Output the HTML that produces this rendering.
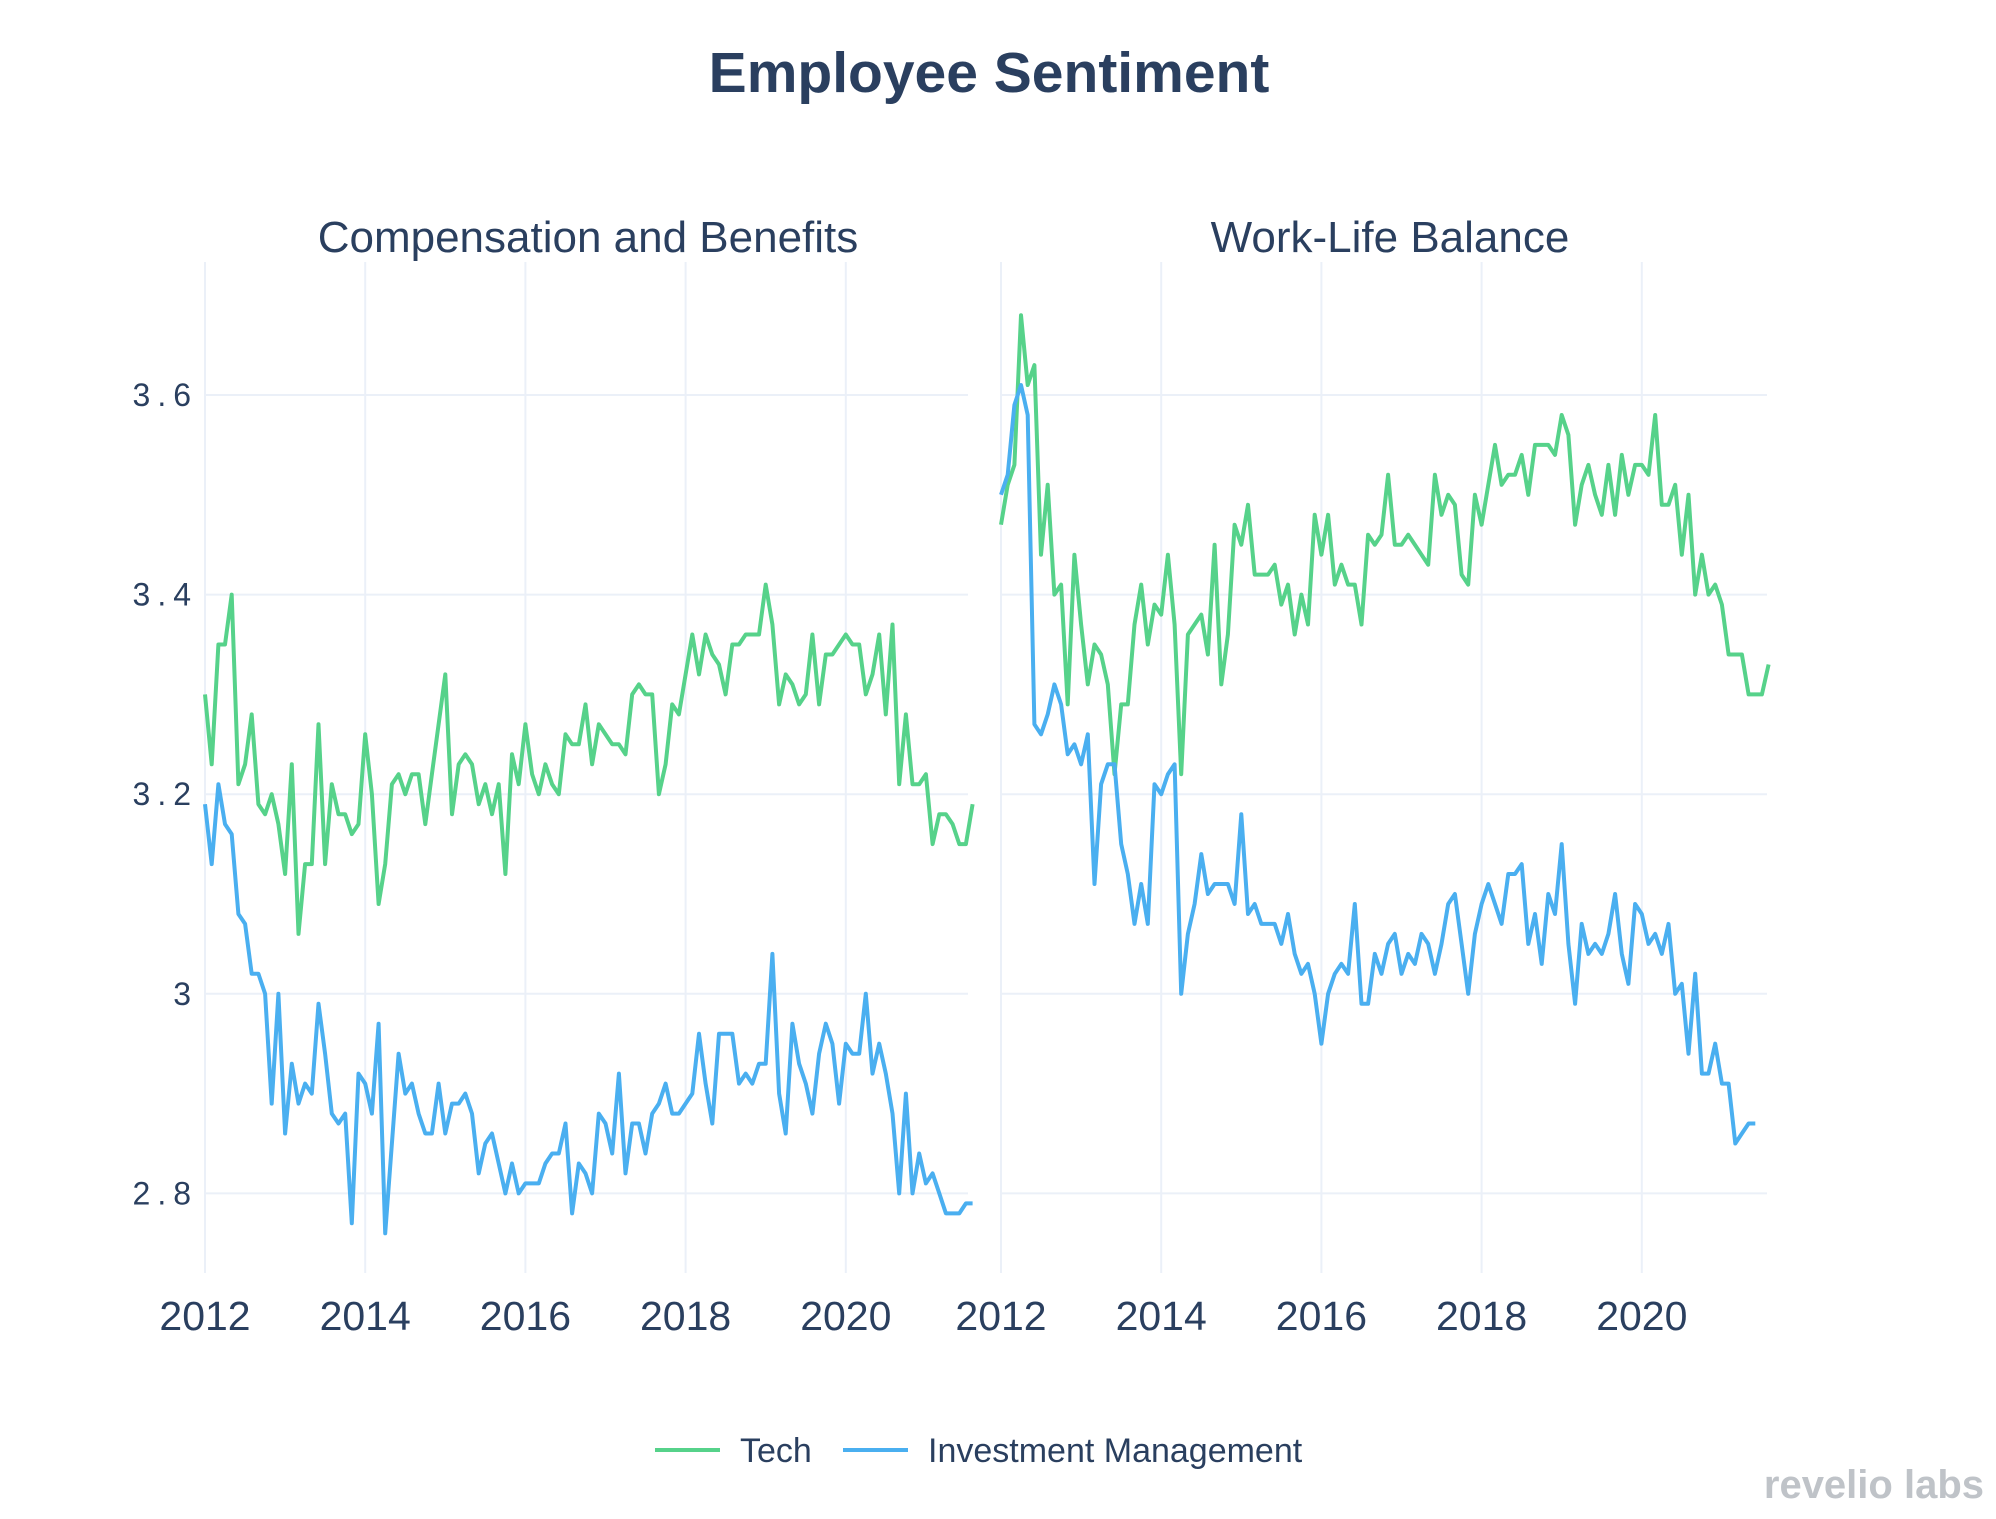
<!DOCTYPE html>
<html><head><meta charset="utf-8"><style>
html,body{margin:0;padding:0;background:#fff;}
svg text{font-family:"Liberation Sans",sans-serif;fill:#2a3f5f;}
</style></head><body>
<svg id="chart" width="1996" height="1514" viewBox="0 0 1996 1514" xmlns="http://www.w3.org/2000/svg">
<rect width="1996" height="1514" fill="#fff"/>
<text x="989" y="92" text-anchor="middle" font-size="57" font-weight="bold">Employee Sentiment</text>
<text x="588" y="252" text-anchor="middle" font-size="44">Compensation and Benefits</text>
<text x="1390" y="252" text-anchor="middle" font-size="44">Work-Life Balance</text>
<g id="grid"></g>
<g id="marks"></g>
<g id="ticks"></g>
<g>
<line x1="655" y1="1450" x2="720" y2="1450" stroke="#56d28a" stroke-width="4"/>
<text x="740" y="1462" font-size="34">Tech</text>
<line x1="843" y1="1450" x2="908" y2="1450" stroke="#4aaff0" stroke-width="4"/>
<text x="928" y="1462" font-size="34">Investment Management</text>
</g>
<text x="1984" y="1498" text-anchor="end" font-size="40" font-weight="bold" style="fill:#bfc3c8">revelio labs</text>
</svg>
<script>
const yTicks=[2.8,3.0,3.2,3.4,3.6];
const yTickLabels=["2.8","3","3.2","3.4","3.6"];
const xTicks=[2012,2014,2016,2018,2020];
const techComp=[3.30,3.23,3.35,3.35,3.40,3.21,3.23,3.28,3.19,3.18,3.20,3.17,3.12,3.23,3.06,3.13,3.13,3.27,3.13,3.21,3.18,3.18,3.16,3.17,3.26,3.20,3.09,3.13,3.21,3.22,3.20,3.22,3.22,3.17,3.22,3.27,3.32,3.18,3.23,3.24,3.23,3.19,3.21,3.18,3.21,3.12,3.24,3.21,3.27,3.22,3.20,3.23,3.21,3.20,3.26,3.25,3.25,3.29,3.23,3.27,3.26,3.25,3.25,3.24,3.30,3.31,3.30,3.30,3.20,3.23,3.29,3.28,3.32,3.36,3.32,3.36,3.34,3.33,3.30,3.35,3.35,3.36,3.36,3.36,3.41,3.37,3.29,3.32,3.31,3.29,3.30,3.36,3.29,3.34,3.34,3.35,3.36,3.35,3.35,3.30,3.32,3.36,3.28,3.37,3.21,3.28,3.21,3.21,3.22,3.15,3.18,3.18,3.17,3.15,3.15,3.19];
const imComp=[3.19,3.13,3.21,3.17,3.16,3.08,3.07,3.02,3.02,3.00,2.89,3.00,2.86,2.93,2.89,2.91,2.90,2.99,2.94,2.88,2.87,2.88,2.77,2.92,2.91,2.88,2.97,2.76,2.85,2.94,2.90,2.91,2.88,2.86,2.86,2.91,2.86,2.89,2.89,2.90,2.88,2.82,2.85,2.86,2.83,2.80,2.83,2.80,2.81,2.81,2.81,2.83,2.84,2.84,2.87,2.78,2.83,2.82,2.80,2.88,2.87,2.84,2.92,2.82,2.87,2.87,2.84,2.88,2.89,2.91,2.88,2.88,2.89,2.90,2.96,2.91,2.87,2.96,2.96,2.96,2.91,2.92,2.91,2.93,2.93,3.04,2.90,2.86,2.97,2.93,2.91,2.88,2.94,2.97,2.95,2.89,2.95,2.94,2.94,3.00,2.92,2.95,2.92,2.88,2.80,2.90,2.80,2.84,2.81,2.82,2.80,2.78,2.78,2.78,2.79,2.79];
const techWlb=[3.47,3.51,3.53,3.68,3.61,3.63,3.44,3.51,3.40,3.41,3.29,3.44,3.37,3.31,3.35,3.34,3.31,3.22,3.29,3.29,3.37,3.41,3.35,3.39,3.38,3.44,3.37,3.22,3.36,3.37,3.38,3.34,3.45,3.31,3.36,3.47,3.45,3.49,3.42,3.42,3.42,3.43,3.39,3.41,3.36,3.40,3.37,3.48,3.44,3.48,3.41,3.43,3.41,3.41,3.37,3.46,3.45,3.46,3.52,3.45,3.45,3.46,3.45,3.44,3.43,3.52,3.48,3.50,3.49,3.42,3.41,3.50,3.47,3.51,3.55,3.51,3.52,3.52,3.54,3.50,3.55,3.55,3.55,3.54,3.58,3.56,3.47,3.51,3.53,3.50,3.48,3.53,3.48,3.54,3.50,3.53,3.53,3.52,3.58,3.49,3.49,3.51,3.44,3.50,3.40,3.44,3.40,3.41,3.39,3.34,3.34,3.34,3.30,3.30,3.30,3.33];
const imWlb=[3.50,3.52,3.59,3.61,3.58,3.27,3.26,3.28,3.31,3.29,3.24,3.25,3.23,3.26,3.11,3.21,3.23,3.23,3.15,3.12,3.07,3.11,3.07,3.21,3.20,3.22,3.23,3.00,3.06,3.09,3.14,3.10,3.11,3.11,3.11,3.09,3.18,3.08,3.09,3.07,3.07,3.07,3.05,3.08,3.04,3.02,3.03,3.00,2.95,3.00,3.02,3.03,3.02,3.09,2.99,2.99,3.04,3.02,3.05,3.06,3.02,3.04,3.03,3.06,3.05,3.02,3.05,3.09,3.10,3.05,3.00,3.06,3.09,3.11,3.09,3.07,3.12,3.12,3.13,3.05,3.08,3.03,3.10,3.08,3.15,3.05,2.99,3.07,3.04,3.05,3.04,3.06,3.10,3.04,3.01,3.09,3.08,3.05,3.06,3.04,3.07,3.00,3.01,2.94,3.02,2.92,2.92,2.95,2.91,2.91,2.85,2.86,2.87,2.87];

const NS="http://www.w3.org/2000/svg";
const panels=[{x0:205,x1:968,name:"compensation"},{x0:1001,x1:1767,name:"work-life"}];
const yTop=262,yBot=1273;
const pxPerYear=80.1;
function yScale(v){return 395+(3.6-v)*998;}
function xScale(p,year){return p.x0+(year-2012)*pxPerYear;}
function mk(tag,attrs,parent){const e=document.createElementNS(NS,tag);for(const k in attrs)e.setAttribute(k,attrs[k]);parent.appendChild(e);return e;}
const grid=document.getElementById('grid'),marks=document.getElementById('marks'),ticks=document.getElementById('ticks');
panels.forEach((p,pi)=>{
  xTicks.forEach(t=>{
    const x=xScale(p,t);
    const g=mk('line',{x1:x,x2:x,y1:yTop,y2:yBot,stroke:'#ebf0f8','stroke-width':2},grid);
    
    
    const tx=mk('text',{x:x,y:1330,'text-anchor':'middle','font-size':41},ticks);
    tx.textContent=t;
    
    
  });
  yTicks.forEach((t,i)=>{
    const y=yScale(t);
    const g=mk('line',{x1:p.x0,x2:p.x1,y1:y,y2:y,stroke:'#ebf0f8','stroke-width':2},grid);
    
    
    if(pi===0){
      const tx=mk('text',{x:198,y:y+11,'text-anchor':'end','font-size':32,'letter-spacing':'7'},ticks);
      tx.textContent=yTickLabels[i];
      
      
    }
  });
});
function drawLine(p,vals,color,name){
  const pts=vals.map((v,i)=>xScale(p,2012+i/12).toFixed(1)+','+yScale(v).toFixed(1)).join(' ');
  const l=mk('polyline',{points:pts,fill:'none',stroke:color,'stroke-width':4,'stroke-linejoin':'round'},marks);
  
  
}
drawLine(panels[0],techComp,'#56d28a','tech-compensation-line');
drawLine(panels[0],imComp,'#4aaff0','im-compensation-line');
drawLine(panels[1],techWlb,'#56d28a','tech-work-life-line');
drawLine(panels[1],imWlb,'#4aaff0','im-work-life-line');
</script>
</body></html>
